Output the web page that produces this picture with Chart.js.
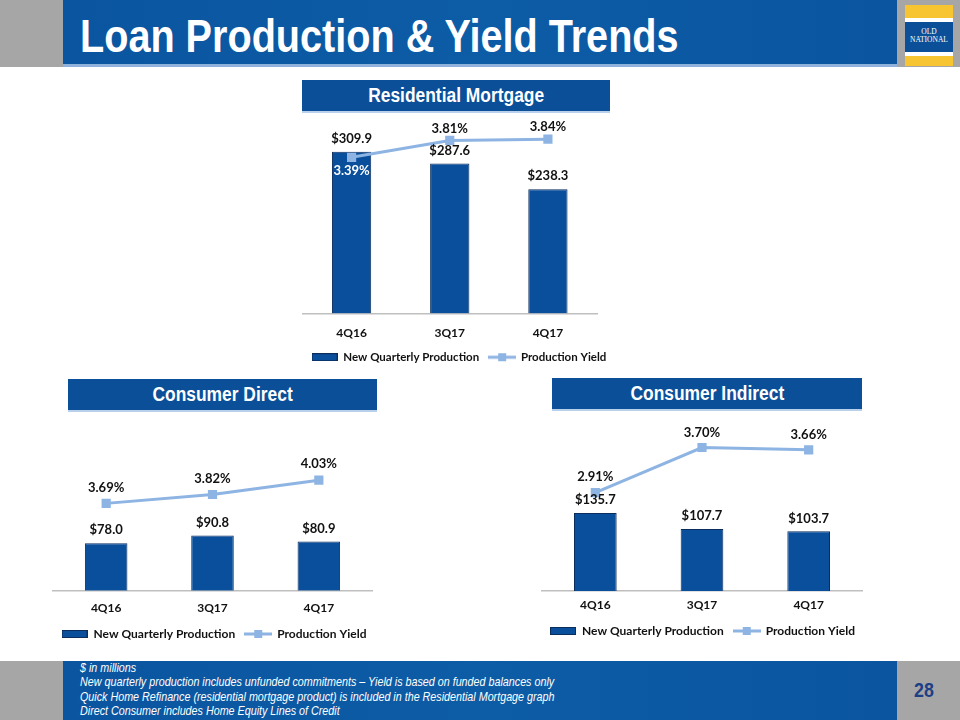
<!DOCTYPE html>
<html>
<head>
<meta charset="utf-8">
<title>Loan Production & Yield Trends</title>
<script src="https://cdn.jsdelivr.net/npm/chart.js@4.4.1/dist/chart.umd.min.js"></script>
<style>
  html, body { margin: 0; padding: 0; }
  body { width: 960px; height: 720px; position: relative; background: #fff; overflow: hidden; font-family: "Liberation Sans", Arial, sans-serif; }
  .gray { position: absolute; background: #a6a6a6; }
  .band { position: absolute; left: 63px; width: 834px; background: linear-gradient(90deg, #0b55a0 0%, #0d5ca6 50%, #0b55a0 100%); }
  #header { top: 0; height: 64px; border-bottom: 3px solid #8fb2dc; }
  #title { position: absolute; left: 80px; top: 9px; color: #fff; font: bold 46px "Liberation Sans", Arial, sans-serif; white-space: nowrap; transform: scaleX(0.861); transform-origin: 0 0; }
  #logo { position: absolute; left: 905px; top: 5px; width: 48px; height: 61px; background: #f7c531; }
  #logo .w { position: absolute; left: 0; width: 48px; background: #fff; }
  #logo .b { position: absolute; left: 0; top: 17px; width: 48px; height: 30px; background: #0b4f98; color: #fff; font: 7.5px/8px "Liberation Serif", serif; text-align: center; padding-top: 6px; box-sizing: border-box; }
  .section { position: absolute; height: 31px; background: #0b4f98; border-bottom: 2px solid #b9d0ea; color: #fff; text-align: center; }
  .section span { display: inline-block; font: bold 20px/31px "Liberation Sans", Arial, sans-serif; white-space: nowrap; transform: scaleX(0.87); }
  canvas.chart { position: absolute; }
  #footer { top: 661px; height: 59px; }
  #notes { position: absolute; left: 80px; top: 661px; color: #fff; font: italic 13px/14.4px "Liberation Sans", Arial, sans-serif; white-space: nowrap; transform: scaleX(0.826); transform-origin: 0 0; }
  #page { position: absolute; left: 914px; top: 678px; color: #1d3f86; font: bold 21px "Liberation Sans", Arial, sans-serif; transform: scaleX(0.85); transform-origin: 0 0; }
</style>
</head>
<body>
<div class="gray" style="left:0;top:0;width:960px;height:67px"></div>
<div class="band" id="header"></div>
<div id="title">Loan Production &amp; Yield Trends</div>
<div id="logo">
  <div class="w" style="top:13px;height:4px"></div>
  <div class="b">OLD<br>NATIONAL</div>
  <div class="w" style="top:47px;height:4px"></div>
</div>

<div class="section" style="left:302px;top:80px;width:308px"><span>Residential Mortgage</span></div>
<div class="section" style="left:68px;top:379px;width:309px"><span>Consumer Direct</span></div>
<div class="section" style="left:552px;top:378px;width:310px"><span>Consumer Indirect</span></div>

<canvas class="chart" id="chartMortgage" style="left:296px;top:115px" width="326" height="258"></canvas>
<canvas class="chart" id="chartDirect" style="left:41px;top:415px" width="346" height="235"></canvas>
<canvas class="chart" id="chartIndirect" style="left:529px;top:413px" width="347" height="234"></canvas>

<div class="gray" style="left:0;top:661px;width:960px;height:59px"></div>
<div class="band" id="footer"></div>
<div id="notes">
  $ in millions<br>
  New quarterly production includes unfunded commitments – Yield is based on funded balances only<br>
  Quick Home Refinance (residential mortgage product) is included in the Residential Mortgage graph<br>
  Direct Consumer includes Home Equity Lines of Credit
</div>
<div id="page">28</div>

<script>
// dados dos graficos ($ em milhoes, rendimento em %)
const quarters = ['4Q16', '3Q17', '4Q17'];
const seriesNames = ['New Quarterly Production', 'Production Yield'];

const mortgageProduction = [309.9, 287.6, 238.3];
const mortgageYield = [3.39, 3.81, 3.84];

const directProduction = [78.0, 90.8, 80.9];
const directYield = [3.69, 3.82, 4.03];

const indirectProduction = [135.7, 107.7, 103.7];
const indirectYield = [2.91, 3.70, 3.66];

const BAR_COLOR = '#0a4f9c';
const BAR_BORDER = '#0b2d5c';
const LINE_COLOR = '#8db4e2';
const LABEL_FONT = 'bold 13px Lato, "Noto Sans", sans-serif';

// amostras da legenda
function barSwatch() {
  const c = document.createElement('canvas');
  c.width = 26; c.height = 8;
  const g = c.getContext('2d');
  g.fillStyle = BAR_BORDER; g.fillRect(0, 0, 26, 8);
  g.fillStyle = BAR_COLOR; g.fillRect(1, 1, 24, 6);
  return c;
}
function lineSwatch() {
  const c = document.createElement('canvas');
  c.width = 28; c.height = 10;
  const g = c.getContext('2d');
  g.fillStyle = LINE_COLOR;
  g.fillRect(0, 3.5, 28, 3);
  g.fillRect(10, 1, 8, 8);
  return c;
}
const swatches = [barSwatch(), lineSwatch()];

// rotulos de valor desenhados sobre barras e pontos
function valueLabels(lineOffsets, barOffset, lineColors) {
  return {
    id: 'valueLabels',
    afterDatasetsDraw(chart) {
      const ctx = chart.ctx;
      chart.data.datasets.forEach((ds, i) => {
        const meta = chart.getDatasetMeta(i);
        const isLine = ds.type === 'line';
        meta.data.forEach((el, j) => {
          const v = ds.data[j];
          const text = isLine ? v.toFixed(2) + '%' : '$' + v.toFixed(1);
          ctx.save();
          ctx.font = LABEL_FONT;
          ctx.textAlign = 'center';
          ctx.textBaseline = 'middle';
          ctx.fillStyle = isLine && lineColors ? lineColors[j] : '#111';
          ctx.fillText(text, el.x, el.y + (isLine ? lineOffsets[j] : barOffset));
          ctx.restore();
        });
      });
    }
  };
}

// eixos invisiveis usados so para reservar espaco lateral
function gapAxis(position, width, extra) {
  return Object.assign({
    display: true,
    position: position,
    grid: { display: false },
    border: { display: false },
    ticks: { display: false },
    afterFit(scale) { scale.width = width; }
  }, extra);
}

function makeChart(id, production, yields, cfg) {
  const el = document.getElementById(id);
  if (!el) { console.warn('canvas nao encontrado:', id); return; }
  new Chart(el, {
    type: 'bar',
    data: {
      labels: quarters,
      datasets: [{
        label: seriesNames[0],
        data: production,
        backgroundColor: BAR_COLOR,
        borderColor: BAR_BORDER,
        borderWidth: 1,
        barPercentage: 0.4,
        categoryPercentage: 1,
        yAxisID: 'y',
        order: 2
      }, {
        type: 'line',
        label: seriesNames[1],
        data: yields,
        borderColor: LINE_COLOR,
        backgroundColor: LINE_COLOR,
        borderWidth: 3,
        pointStyle: 'rect',
        pointRadius: 6.5,
        pointBorderWidth: 0,
        tension: 0,
        yAxisID: 'y2',
        order: 1
      }]
    },
    options: {
      responsive: false,
      animation: false,
      events: [],
      layout: { padding: { top: 5, left: 0, right: 0, bottom: 0 } },
      scales: {
        x: {
          grid: { display: false, drawTicks: false },
          border: { display: true, color: '#bfbfbf', width: 1.5 },
          ticks: { color: '#111', padding: cfg.tickPadding, font: { family: 'Lato', weight: 'bold', size: 12 } },
          afterFit(scale) { scale.height = cfg.xHeight; }
        },
        y: gapAxis('left', cfg.leftGap, { min: 0, max: cfg.yMax }),
        y2: gapAxis('right', cfg.rightGap, { min: cfg.y2Min, max: cfg.y2Max })
      },
      plugins: {
        tooltip: { enabled: false },
        legend: {
          position: 'bottom',
          labels: {
            usePointStyle: true,
            pointStyleWidth: 26,
            padding: 10,
            color: '#111',
            font: { family: 'Lato', weight: 'bold', size: cfg.legendSize },
            sort: (a, b) => a.datasetIndex - b.datasetIndex,
            generateLabels(chart) {
              const items = Chart.defaults.plugins.legend.labels.generateLabels(chart);
              items.forEach(it => { it.pointStyle = swatches[it.datasetIndex]; });
              return items;
            }
          }
        }
      }
    },
    plugins: [valueLabels(cfg.lineOffsets, -13, cfg.lineColors)]
  });
}

makeChart('chartMortgage', mortgageProduction, mortgageYield, {
  leftGap: 6, rightGap: 25,
  tickPadding: 12, xHeight: 28, legendSize: 11.5,
  yMax: 368, y2Min: -0.49, y2Max: 4.28,
  lineOffsets: [13, -12, -12],
  lineColors: ['#ffffff', '#111', '#111']
});

makeChart('chartDirect', directProduction, directYield, {
  leftGap: 12, rightGap: 15,
  tickPadding: 10, xHeight: 27.3, legendSize: 12,
  yMax: 278, y2Min: 2.41, y2Max: 4.89,
  lineOffsets: [-16, -16, -16]
});

makeChart('chartIndirect', indirectProduction, indirectYield, {
  leftGap: 13, rightGap: 14,
  tickPadding: 6.5, xHeight: 24, legendSize: 12,
  yMax: 298, y2Min: 1.19, y2Max: 4.19,
  lineOffsets: [-16, -15, -15]
});
</script>
</body>
</html>
